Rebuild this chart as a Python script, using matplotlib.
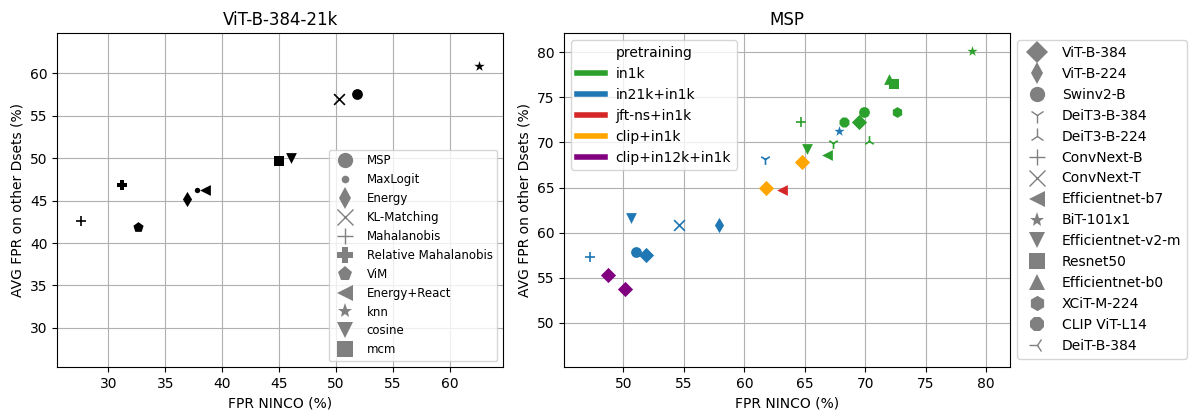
import matplotlib
matplotlib.use("Agg")
import matplotlib.pyplot as plt
from matplotlib.lines import Line2D

# ---------------- Left panel data (ViT-B-384-21k) ----------------
left_methods = ["MSP", "MaxLogit", "Energy", "KL-Matching", "Mahalanobis",
                "Relative Mahalanobis", "ViM", "Energy+React", "knn", "cosine", "mcm"]
left_markers = ["o", ".", "d", "x", "+", "P", "p", "<", "*", "v", "s"]
left_x = [51.85, 37.8, 36.9, 50.25, 27.55, 31.15, 32.6, 38.5, 62.6, 46.0, 45.0]
left_y = [57.6, 46.2, 45.2, 56.95, 42.6, 46.8, 41.9, 46.2, 60.9, 50.0, 49.65]

# ---------------- Right panel data (MSP) ----------------
pretrain_names = ["in1k", "in21k+in1k", "jft-ns+in1k", "clip+in1k", "clip+in12k+in1k"]
pretrain_colors = ["#2ca02c", "#1f77b4", "#d62728", "orange", "purple"]

model_names = ["ViT-B-384", "ViT-B-224", "Swinv2-B", "DeiT3-B-384", "DeiT3-B-224",
               "ConvNext-B", "ConvNext-T", "Efficientnet-b7", "BiT-101x1",
               "Efficientnet-v2-m", "Resnet50", "Efficientnet-b0", "XCiT-M-224",
               "CLIP ViT-L14", "DeiT-B-384"]
model_markers = ["D", "d", "o", "1", "2", "+", "x", "<", "*", "v", "s", "^", "h", "8", "3"]

# points: (model, pretraining, FPR NINCO, AVG FPR)
right_model = ["BiT-101x1", "Efficientnet-b0", "Resnet50", "XCiT-M-224", "Swinv2-B",
               "ViT-B-384", "CLIP ViT-L14", "ConvNext-B", "Efficientnet-v2-m",
               "Efficientnet-b7", "DeiT3-B-384", "DeiT3-B-224",
               "BiT-101x1", "DeiT3-B-384", "Efficientnet-v2-m", "ConvNext-T",
               "ViT-B-224", "Swinv2-B", "ViT-B-384", "ConvNext-B",
               "Efficientnet-b7",
               "ViT-B-384", "ViT-B-384",
               "ViT-B-384", "ViT-B-384"]
right_pretrain = ["in1k"] * 12 + ["in21k+in1k"] * 8 + ["jft-ns+in1k"] + \
                 ["clip+in1k"] * 2 + ["clip+in12k+in1k"] * 2
right_x = [78.8, 72.0, 72.4, 72.6, 69.9, 69.45, 68.25, 64.7, 65.2, 66.8, 67.3, 70.3,
           67.8, 61.7, 50.65, 54.6, 57.9, 51.0, 51.9, 47.2,
           63.1,
           64.8, 61.8,
           48.75, 50.1]
right_y = [80.15, 77.0, 76.45, 73.35, 73.35, 72.3, 72.3, 72.25, 69.3, 68.6, 69.9, 70.2,
           71.3, 68.15, 61.6, 60.9, 60.8, 57.9, 57.55, 57.3,
           64.7,
           67.8, 64.9,
           55.35, 53.75]

UNFILLED = {"+", "x", "1", "2", "3"}

fig = plt.figure(figsize=(11.96, 4.2), dpi=100)
ax1 = fig.add_axes([0.0479, 0.1262, 0.4208 - 0.0479, 0.9207 - 0.1262])
ax2 = fig.add_axes([0.4718, 0.1262, 0.8447 - 0.4718, 0.9207 - 0.1262])

S = 60

# ---- left ----
for name, m, x, y in zip(left_methods, left_markers, left_x, left_y):
    if m in UNFILLED:
        ax1.scatter([x], [y], marker=m, s=S, c="black", linewidths=1.2, zorder=3)
    else:
        ax1.scatter([x], [y], marker=m, s=S, c="black", linewidths=0, zorder=3)
ax1.set_xlim(25.5, 64.7)
ax1.set_ylim(25.4, 64.7)
ax1.set_xticks([30, 35, 40, 45, 50, 55, 60])
ax1.set_yticks([30, 35, 40, 45, 50, 55, 60])
ax1.grid(True, color="#b0b0b0", linewidth=0.8)
ax1.set_axisbelow(True)
ax1.set_title("ViT-B-384-21k", fontsize=12)
ax1.set_xlabel("FPR NINCO (%)")
ax1.set_ylabel("AVG FPR on other Dsets (%)")
h_left = [Line2D([], [], marker=m, color="gray", linestyle="", markersize=11,
                 markeredgewidth=1.0 if m in UNFILLED else 0.0)
          for m in left_markers]
ax1.legend(h_left, left_methods, loc="lower right", fontsize=8.5)

# ---- right ----
cmap = dict(zip(pretrain_names, pretrain_colors))
mmap = dict(zip(model_names, model_markers))
for mdl, pt, x, y in zip(right_model, right_pretrain, right_x, right_y):
    m = mmap[mdl]
    if m in UNFILLED:
        ax2.scatter([x], [y], marker=m, s=S, c=cmap[pt], linewidths=1.2, zorder=3)
    else:
        ax2.scatter([x], [y], marker=m, s=S, c=cmap[pt], linewidths=0, zorder=3)
ax2.set_xlim(45.1, 82.0)
ax2.set_ylim(45.1, 82.1)
ax2.set_xticks([50, 55, 60, 65, 70, 75, 80])
ax2.set_yticks([50, 55, 60, 65, 70, 75, 80])
ax2.grid(True, color="#b0b0b0", linewidth=0.8)
ax2.set_axisbelow(True)
ax2.set_title("MSP", fontsize=12)
ax2.set_xlabel("FPR NINCO (%)")
ax2.set_ylabel("AVG FPR on other Dsets (%)")

h_pt = [Line2D([], [], linestyle="", marker="")] + \
       [Line2D([], [], color=c, lw=4) for c in pretrain_colors]
leg1 = ax2.legend(h_pt, ["pretraining"] + pretrain_names, loc="upper left", fontsize=10)
ax2.add_artist(leg1)
h_md = [Line2D([], [], marker=m, color="gray", linestyle="", markersize=11,
               markeredgewidth=1.0 if m in UNFILLED else 0.0)
        for m in model_markers]
ax2.legend(h_md, model_names, loc="upper left", bbox_to_anchor=(1.0, 1.0), fontsize=10)

fig.savefig("out.png", dpi=100)
